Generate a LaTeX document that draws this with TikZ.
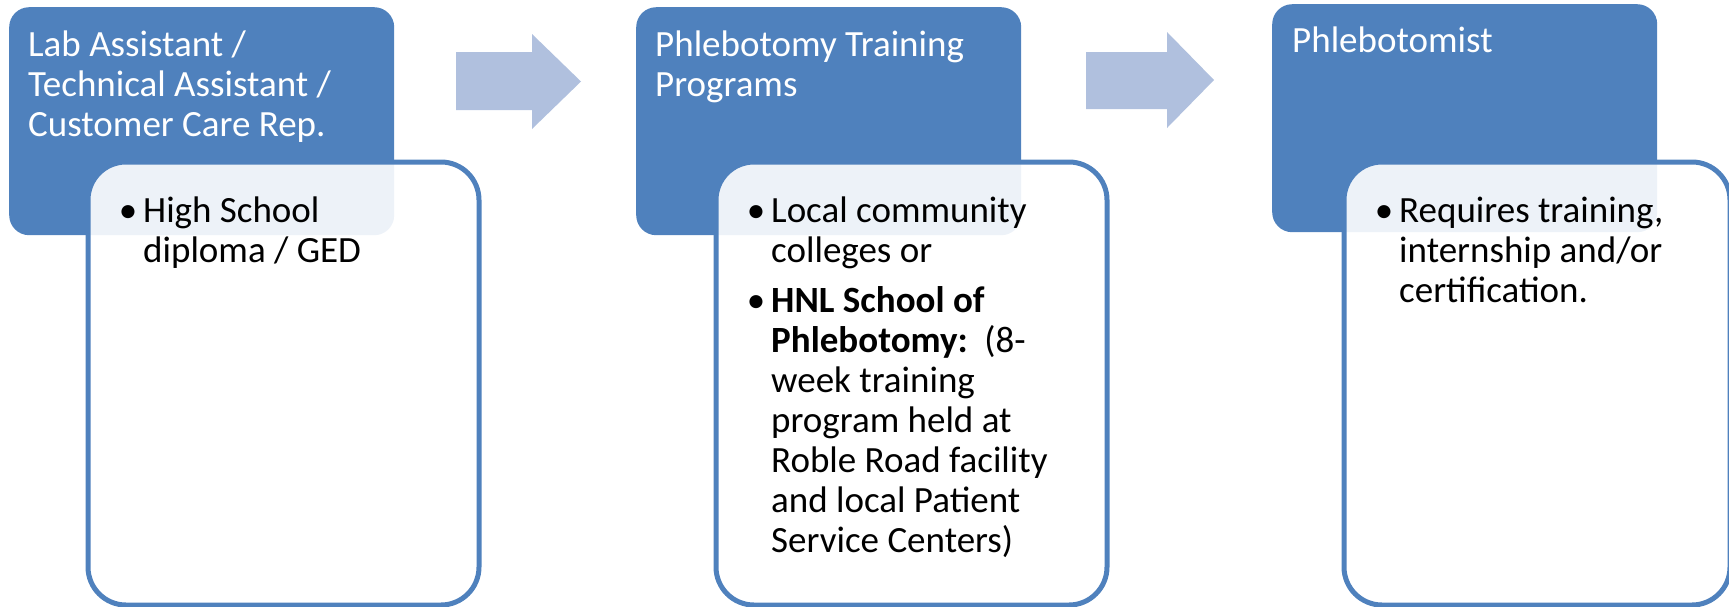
\documentclass[tikz,border=0pt]{standalone}
\usepackage{fontspec}
\setmainfont{Carlito}
\definecolor{accent}{RGB}{79,129,189}
\definecolor{arrowc}{RGB}{176,192,222}
\begin{document}
\begin{tikzpicture}[x=1pt,y=-1pt,
  topbox/.style={fill=accent, draw=none, rounded corners=20, minimum width=385, minimum height=228, anchor=north west, inner sep=0},
  botbox/.style={draw=accent, line width=5, fill=white, fill opacity=0.9, draw opacity=1, rounded corners=38, minimum width=391, minimum height=443, anchor=north west, inner sep=0},
  head/.style={anchor=base west, inner sep=0, text=white, font=\fontsize{37}{40}\selectfont},
  body/.style={anchor=base west, inner sep=0, text=black, font=\fontsize{37}{40}\selectfont},
  dot/.style={anchor=base, inner sep=0, text=black, font=\fontsize{37}{40}\selectfont},
  blockarrow/.style={fill=arrowc, draw=none}
]
\useasboundingbox (0,0) rectangle (1729,606);

% top boxes
\node[topbox] (h1) at (9,7) {};
\node[topbox] (h2) at (636,7) {};
\node[topbox] (h3) at (1272,4) {};

% bottom boxes
\node[botbox] (b1) at (85.5,159.5) {};
\node[botbox] (b2) at (713.5,159.5) {};
\node[botbox, minimum width=386] (b3) at (1341.5,159.5) {};

% block arrows
\fill[blockarrow] (456,52) -- (532,52) -- (532,34) -- (581,81.5) -- (532,129) -- (532,110) -- (456,110) -- cycle;
\fill[blockarrow] (1086,52) -- (1167,52) -- (1167,32) -- (1214,80) -- (1167,128) -- (1167,109) -- (1086,109) -- cycle;

% header texts
\node[head] (h1a) at (28,56) {Lab Assistant /};
\node[head] (h1b) at (28,96) {Technical Assistant /};
\node[head] (h1c) at (28,136) {Customer Care Rep.};
\node[head] (h2a) at (655,56) {Phlebotomy Training};
\node[head] (h2b) at (655,96) {Programs};
\node[head] (h3a) at (1292,52) {Phlebotomist};

% box 1 body
\node[dot] (d1a) at (128,222) {•};
\node[body] (t1a) at (143,222) {High School};
\node[body] (t1b) at (143,262) {diploma / GED};

% box 2 body
\node[dot] (d2a) at (756,222) {•};
\node[body] (t2a) at (771,222) {Local community};
\node[body] (t2b) at (771,262) {colleges or};
\node[dot] (d2b) at (756,312) {•};
\node[body] (t2c) at (771,312) {\bfseries HNL School of};
\node[body] (t2d) at (771,352) {\textbf{Phlebotomy:}\ \ (8-};
\node[body] (t2e) at (771,392) {week training};
\node[body] (t2f) at (771,432) {program held at};
\node[body] (t2g) at (771,472) {Roble Road facility};
\node[body] (t2h) at (771,512) {and local Patient};
\node[body] (t2i) at (771,552) {Service Centers)};

% box 3 body
\node[dot] (d3a) at (1384,222) {•};
\node[body] (t3a) at (1399,222) {Requires training,};
\node[body] (t3b) at (1399,262) {internship and/or};
\node[body] (t3c) at (1399,302) {certification.};
\end{tikzpicture}
\end{document}
